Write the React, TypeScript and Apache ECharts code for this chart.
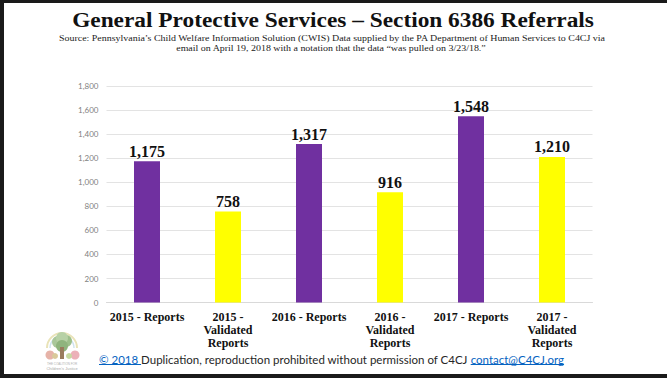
import React, { useEffect, useRef } from "react";
import * as echarts from "echarts";

const titleText = "General Protective Services – Section 6386 Referrals";
const sourceLines = [
  "Source: Pennsylvania’s Child Welfare Information Solution (CWIS) Data supplied by the PA Department of Human Services to C4CJ via",
  "email on April 19, 2018 with a notation that the data “was pulled on 3/23/18.”",
];
const footerParts = [
  "© 2018 ",
  "Duplication, reproduction prohibited without permission of C4CJ ",
  "contact@C4CJ.org",
];

const categories = [
  "2015 - Reports",
  "2015 -\nValidated\nReports",
  "2016 - Reports",
  "2016 -\nValidated\nReports",
  "2017 - Reports",
  "2017 -\nValidated\nReports",
];
const values = [1175, 758, 1317, 916, 1548, 1210];
const barColors = ["#7030A0", "#FFFF00", "#7030A0", "#FFFF00", "#7030A0", "#FFFF00"];
const yMin = 0;
const yMax = 1800;
const yInterval = 200;

function measure(text: string, font: string): number {
  const c = document.createElement("canvas").getContext("2d");
  if (!c) return text.length * 6;
  c.font = font;
  return c.measureText(text).width;
}

export default function App() {
  const ref = useRef<HTMLDivElement>(null);

  useEffect(() => {
    if (!ref.current) return;
    const chart = echarts.init(ref.current, undefined, { renderer: "svg" });

    const titleFont = 'bold 21px "Liberation Serif"';
    const titleScale = 522 / measure(titleText, titleFont);
    const srcFont = '9px "Liberation Serif"';
    const srcScale = 548 / measure(sourceLines[0], srcFont);

    const footFont = '12px Lato';
    const widths = footerParts.map((p) => measure(p, footFont));
    const total = widths.reduce((a, b) => a + b, 0);
    const fs = 465 / total;
    const fx1 = 99;
    const fx2 = fx1 + widths[0] * fs;
    const fx3 = fx2 + widths[1] * fs;
    const footY = 359;

    const logo = {
      type: "group",
      x: 0,
      y: 0,
      children: [
        { type: "arc", shape: { cx: 62, cy: 348, r: 15, startAngle: Math.PI, endAngle: 2 * Math.PI }, style: { stroke: "#e9e3b8", lineWidth: 2, fill: "none" } },
        { type: "arc", shape: { cx: 62, cy: 348, r: 12, startAngle: Math.PI, endAngle: 2 * Math.PI }, style: { stroke: "#cfe3f0", lineWidth: 1.5, fill: "none" } },
        { type: "circle", shape: { cx: 58, cy: 342, r: 6 }, style: { fill: "#a9c79a" } },
        { type: "circle", shape: { cx: 66, cy: 341, r: 6 }, style: { fill: "#9dbf8b" } },
        { type: "circle", shape: { cx: 62, cy: 338, r: 6 }, style: { fill: "#b7d1a6" } },
        { type: "circle", shape: { cx: 62, cy: 346, r: 6 }, style: { fill: "#8fb47e" } },
        { type: "rect", shape: { x: 60, y: 347, width: 4, height: 12 }, style: { fill: "#9a7c5e" } },
        { type: "circle", shape: { cx: 50, cy: 355, r: 4.5 }, style: { fill: "#e6b3a8" } },
        { type: "circle", shape: { cx: 75, cy: 355, r: 4.5 }, style: { fill: "#ecb1b8" } },
        { type: "circle", shape: { cx: 55, cy: 356, r: 3 }, style: { fill: "#d9c99a" } },
        { type: "circle", shape: { cx: 69, cy: 356, r: 3 }, style: { fill: "#c7d9a0" } },
        { type: "text", x: 62, y: 364, style: { text: "THE COALITION FOR", font: '3px "Liberation Sans"', fill: "#b0b0b0", textAlign: "center", textVerticalAlign: "middle" } },
        { type: "text", x: 62, y: 368.5, style: { text: "Children's Justice", font: '4px "Liberation Sans"', fill: "#a8a8a8", textAlign: "center", textVerticalAlign: "middle" } },
      ],
    };

    const option = {
      animation: false,
      backgroundColor: "#ffffff",
      grid: { left: 106.5, right: 74.5, top: 86, bottom: 75.4, containLabel: false },
      xAxis: {
        type: "category",
        data: categories,
        axisLine: { show: true, lineStyle: { color: "#d9d9d9", width: 1 } },
        axisTick: { show: false },
        axisLabel: {
          interval: 0,
          margin: 8,
          color: "#111111",
          fontFamily: "Liberation Serif",
          fontWeight: "bold",
          fontSize: 12,
          lineHeight: 13,
        },
      },
      yAxis: {
        type: "value",
        min: yMin,
        max: yMax,
        interval: yInterval,
        axisLine: { show: false },
        axisTick: { show: false },
        splitLine: { lineStyle: { color: "#e3e3e3", width: 1 } },
        axisLabel: {
          margin: 8,
          color: "#7f7f7f",
          fontFamily: "Lato",
          fontSize: 8,
          formatter: (v: number) => v.toLocaleString("en-US"),
        },
      },
      series: [
        {
          type: "bar",
          data: values.map((v, i) => ({ value: v, itemStyle: { color: barColors[i] } })),
          barWidth: 26,
          label: {
            show: true,
            position: "top",
            distance: 2,
            color: "#111111",
            fontFamily: "Liberation Serif",
            fontWeight: "bold",
            fontSize: 16,
            formatter: (p: any) => Number(p.value).toLocaleString("en-US"),
          },
        },
      ],
      graphic: {
        elements: [
          { type: "rect", shape: { x: 0, y: 0, width: 667, height: 3 }, style: { fill: "#1a1a1a" } },
          { type: "rect", shape: { x: 0, y: 0, width: 4, height: 378 }, style: { fill: "#1a1a1a" } },
          { type: "rect", shape: { x: 0, y: 374, width: 667, height: 4 }, style: { fill: "#1a1a1a" } },
          {
            type: "text",
            x: 333,
            y: 20,
            scaleX: titleScale,
            style: { text: titleText, font: titleFont, fill: "#111111", textAlign: "center", textVerticalAlign: "middle" },
          },
          {
            type: "text",
            x: 332,
            y: 38.5,
            scaleX: srcScale,
            style: { text: sourceLines[0], font: srcFont, fill: "#222222", textAlign: "center", textVerticalAlign: "middle" },
          },
          {
            type: "text",
            x: 331,
            y: 48,
            scaleX: srcScale,
            style: { text: sourceLines[1], font: srcFont, fill: "#222222", textAlign: "center", textVerticalAlign: "middle" },
          },
          {
            type: "text",
            x: fx1,
            y: footY,
            scaleX: fs,
            style: { text: footerParts[0], font: footFont, fill: "#0563C1", textAlign: "left", textVerticalAlign: "middle" },
          },
          {
            type: "text",
            x: fx2,
            y: footY,
            scaleX: fs,
            style: { text: footerParts[1], font: footFont, fill: "#262626", textAlign: "left", textVerticalAlign: "middle" },
          },
          {
            type: "text",
            x: fx3,
            y: footY,
            scaleX: fs,
            style: { text: footerParts[2], font: footFont, fill: "#0563C1", textAlign: "left", textVerticalAlign: "middle" },
          },
          { type: "line", shape: { x1: fx1, y1: 364.5, x2: fx2, y2: 364.5 }, style: { stroke: "#0563C1", lineWidth: 1 } },
          { type: "line", shape: { x1: fx3, y1: 364.5, x2: fx3 + widths[2] * fs, y2: 364.5 }, style: { stroke: "#0563C1", lineWidth: 1 } },
          logo,
        ],
      },
    };

    chart.setOption(option as any);
    return () => {
      chart.dispose();
    };
  }, []);

  return (
    <div
      ref={ref}
      style={{ position: "fixed", left: 0, top: 0, width: 667, height: 378, background: "#ffffff" }}
    />
  );
}
